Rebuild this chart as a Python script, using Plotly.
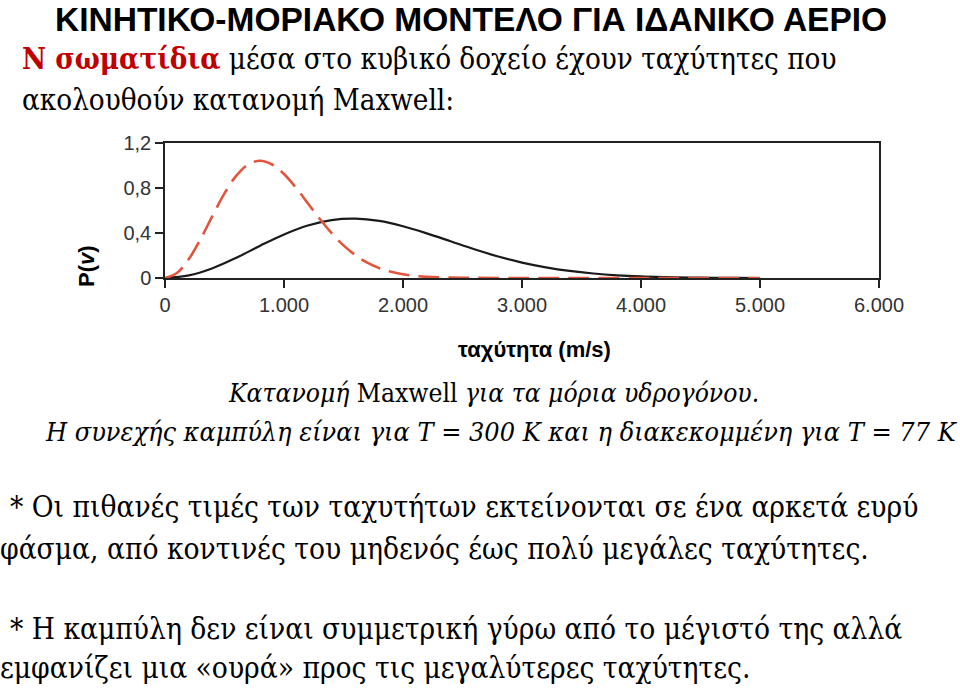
import plotly.graph_objects as go

# ---- data ----
speed_300K = [0, 200, 400, 600, 800, 1000, 1200, 1400, 1600, 1800, 2000, 2200, 2400,
              2600, 2800, 3000, 3200, 3400, 3600, 3800, 4000, 4200, 4400, 4600, 4800, 5000]
p_300K = [0, 0.023, 0.087, 0.180, 0.287, 0.387, 0.467, 0.515, 0.527, 0.507, 0.460, 0.397, 0.326,
          0.255, 0.191, 0.137, 0.095, 0.063, 0.040, 0.024, 0.014, 0.008, 0.004, 0.002, 0.001, 0.0]

speed_77K = [0, 100, 200, 300, 400, 500, 600, 700, 800, 900, 1000, 1100, 1200, 1300, 1400,
             1500, 1600, 1700, 1800, 1900, 2000, 2100, 2200, 2400, 2600, 3000, 4000, 5000]
p_77K = [0, 0.044, 0.168, 0.348, 0.554, 0.752, 0.910, 1.010, 1.042, 1.009, 0.924, 0.803, 0.665,
         0.527, 0.399, 0.290, 0.203, 0.136, 0.088, 0.055, 0.033, 0.019, 0.010, 0.003, 0.001, 0, 0, 0]

x_tickvals = [0, 1000, 2000, 3000, 4000, 5000, 6000]
x_ticktext = ["0", "1.000", "2.000", "3.000", "4.000", "5.000", "6.000"]
y_tickvals = [0, 0.4, 0.8, 1.2]
y_ticktext = ["0", "0,4", "0,8", "1,2"]

W, H = 960, 689
L, R, T, B = 165, 879, 143, 278  # plot box in pixels


def px(x):
    return (x - L) / (R - L)


def py(y):
    return (B - y) / (B - T)


fig = go.Figure()
fig.add_trace(go.Scatter(x=speed_300K, y=p_300K, mode="lines", line_shape="spline",
                         line=dict(color="#1a1a1a", width=2.2), showlegend=False, hoverinfo="skip"))
fig.add_trace(go.Scatter(x=speed_77K, y=p_77K, mode="lines", line_shape="spline",
                         line=dict(color="#e2553c", width=2.6, dash="21px,9px"), showlegend=False,
                         hoverinfo="skip"))

serif = "DejaVu Serif Condensed, DejaVu Serif, serif"
sans = "Liberation Sans, Arial, sans-serif"

ann = []


def add(text, x, y, size, family=serif, color="black", xanchor="left", angle=0):
    ann.append(dict(text=text, x=px(x), y=py(y), xref="paper", yref="paper", showarrow=False,
                    xanchor=xanchor, yanchor="middle", textangle=angle,
                    font=dict(size=size, family=family, color=color)))


add("<b>ΚΙΝΗΤΙΚΟ-ΜΟΡΙΑΚΟ ΜΟΝΤΕΛΟ ΓΙΑ ΙΔΑΝΙΚΟ ΑΕΡΙΟ</b>", 471, 20, 33.5,
    family=sans, xanchor="center")
add("<b><span style='color:#c00000'>Ν σωματίδια</span></b> μέσα στο κυβικό δοχείο έχουν ταχύτητες που",
    20, 58, 29.3)
add("ακολουθούν κατανομή Maxwell:", 20, 100, 29.3)
add("<b>ταχύτητα (m/s)</b>", 534, 349, 22, family=sans, xanchor="center")
add("<b>P(<i>v</i>)</b>", 86, 266, 22, family=sans, xanchor="center", angle=-90)
add("<i>Κατανομή</i> Maxwell <i>για τα μόρια υδρογόνου.</i>", 493, 393, 26.2, xanchor="center")
add("<i>Η συνεχής καμπύλη είναι για T = 300 K και η διακεκομμένη για T = 77 K</i>", 501, 431, 26.8,
    xanchor="center")
add("* Οι πιθανές τιμές των ταχυτήτων εκτείνονται σε ένα αρκετά ευρύ", 8, 507, 29.6)
add("φάσμα, από κοντινές του μηδενός έως πολύ μεγάλες ταχύτητες.", -2, 549, 29.6)
add("* Η καμπύλη δεν είναι συμμετρική γύρω από το μέγιστό της αλλά", 8, 629, 29.6)
add("εμφανίζει μια «ουρά» προς τις μεγαλύτερες ταχύτητες.", -2, 668, 29.6)

axis_common = dict(showline=True, linecolor="#222", linewidth=1.5, mirror=True, showgrid=False,
                   zeroline=False, ticks="outside", ticklen=8, tickwidth=1.5, tickcolor="#222",
                   tickfont=dict(size=20, family=sans, color="#333"), layer="below traces")

fig.update_layout(
    width=W, height=H, margin=dict(l=L, r=W - R, t=T, b=H - B),
    paper_bgcolor="white", plot_bgcolor="white",
    xaxis=dict(range=[0, 6000], tickvals=x_tickvals, ticktext=x_ticktext, **axis_common),
    yaxis=dict(range=[0, 1.2], tickvals=y_tickvals, ticktext=y_ticktext, **axis_common),
    annotations=ann,
)

fig.write_html("out.html")
